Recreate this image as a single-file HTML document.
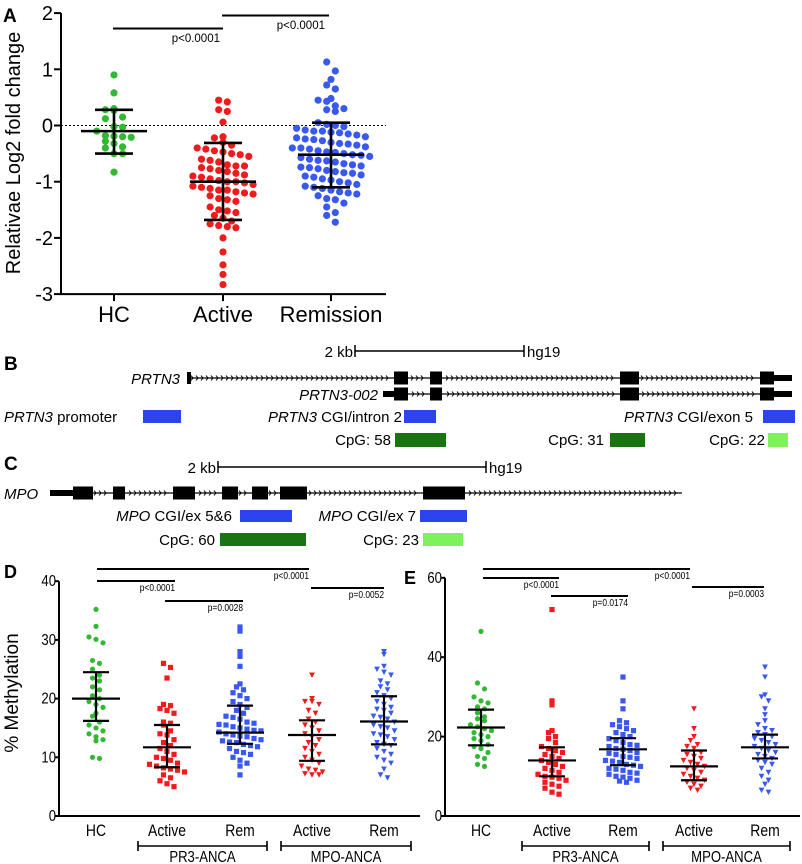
<!DOCTYPE html>
<html><head><meta charset="utf-8"><style>
body{margin:0;background:#fff}
svg{display:block;font-family:"Liberation Sans",sans-serif}
</style></head><body>
<svg id="fig" width="802" height="864" viewBox="0 0 802 864" xmlns="http://www.w3.org/2000/svg">
<text x="3" y="22" font-size="19" font-weight="bold">A</text>
<text transform="translate(20,153) rotate(-90)" text-anchor="middle" font-size="20">Relativae Log2 fold change</text>
<g id="panelB">
<text x="4" y="370" font-size="19" font-weight="bold">B</text>
<text x="353" y="357" text-anchor="end" font-size="15">2 kb</text>
<path d="M355 351H524M355 345V357M524 345V357" stroke="#000" stroke-width="1.5" fill="none"/>
<text x="527" y="357" font-size="15">hg19</text>
<text x="180" y="384" text-anchor="end" font-size="15" font-style="italic">PRTN3</text>
<text x="378" y="400" text-anchor="end" font-size="15" font-style="italic">PRTN3-002</text>
<text x="4" y="422" font-size="15"><tspan font-style="italic">PRTN3</tspan> promoter</text>
<rect x="143" y="410" width="38" height="13" fill="#2b44f0"/>
<text x="402" y="422" text-anchor="end" font-size="15"><tspan font-style="italic">PRTN3</tspan> CGI/intron 2</text>
<rect x="404" y="410" width="32" height="13" fill="#2b44f0"/>
<text x="753" y="422" text-anchor="end" font-size="15"><tspan font-style="italic">PRTN3</tspan> CGI/exon 5</text>
<rect x="763" y="410" width="32" height="13" fill="#2b44f0"/>
<text x="391" y="445" text-anchor="end" font-size="15">CpG: 58</text>
<rect x="395" y="433" width="51" height="14" fill="#1a7412"/>
<text x="604" y="445" text-anchor="end" font-size="15">CpG: 31</text>
<rect x="610" y="433" width="35" height="14" fill="#1a7412"/>
<text x="765" y="445" text-anchor="end" font-size="15">CpG: 22</text>
<rect x="768" y="433" width="20" height="14" fill="#7ef25a"/>
</g>
<g id="panelC">
<text x="4" y="470" font-size="19" font-weight="bold">C</text>
<text x="216" y="473" text-anchor="end" font-size="15">2 kb</text>
<path d="M218 467H486M218 461V473M486 461V473" stroke="#000" stroke-width="1.5" fill="none"/>
<text x="489" y="473" font-size="15">hg19</text>
<text x="4" y="499" font-size="15" font-style="italic">MPO</text>
<text x="232" y="521" text-anchor="end" font-size="15"><tspan font-style="italic">MPO</tspan> CGI/ex 5&amp;6</text>
<rect x="240" y="510" width="52" height="12" fill="#2b44f0"/>
<text x="416" y="521" text-anchor="end" font-size="15"><tspan font-style="italic">MPO</tspan> CGI/ex 7</text>
<rect x="420" y="510" width="47" height="12" fill="#2b44f0"/>
<text x="215" y="545" text-anchor="end" font-size="15">CpG: 60</text>
<rect x="220" y="533" width="86" height="13" fill="#1a7412"/>
<text x="419" y="545" text-anchor="end" font-size="15">CpG: 23</text>
<rect x="423" y="533" width="40" height="13" fill="#7ef25a"/>
</g>
<text x="4" y="578" font-size="18" font-weight="bold">D</text>
<text x="404" y="584" font-size="18" font-weight="bold">E</text>
<text transform="translate(18,693) rotate(-90)" text-anchor="middle" font-size="19">% Methylation</text>
<g id="layer"></g>
</svg>
<script>
// ---------- Panel A data ----------
const aCategories = ["HC","Active","Remission"];
const aHC = [0.9,0.58,0.3,0.28,0.27,0.15,0.12,-0.02,-0.03,-0.1,-0.18,-0.19,-0.2,-0.21,-0.28,-0.32,-0.38,-0.4,-0.5,-0.5,-0.83];
const aActive = [0.45,0.42,0.28,0.25,0.06,-0.2,-0.22,-0.3,-0.35,-0.4,-0.42,-0.45,-0.47,-0.5,-0.52,-0.55,-0.6,-0.62,-0.65,-0.7,-0.72,-0.72,-0.75,-0.77,-0.8,-0.82,-0.85,-0.88,-0.9,-0.92,-0.95,-0.98,-1.0,-1.0,-1.02,-1.05,-1.08,-1.1,-1.12,-1.15,-1.15,-1.18,-1.2,-1.22,-1.25,-1.3,-1.32,-1.35,-1.45,-1.5,-1.52,-1.55,-1.6,-1.65,-1.7,-1.75,-1.78,-1.8,-1.82,-2.0,-2.25,-2.48,-2.65,-2.83];
const aRemission = [1.13,0.97,0.82,0.72,0.65,0.48,0.45,0.43,0.35,0.3,0.28,0.25,0.05,0.02,0.0,-0.02,-0.05,-0.08,-0.1,-0.1,-0.12,-0.13,-0.15,-0.17,-0.2,-0.22,-0.24,-0.25,-0.27,-0.3,-0.32,-0.33,-0.35,-0.38,-0.4,-0.4,-0.42,-0.45,-0.47,-0.48,-0.5,-0.52,-0.53,-0.55,-0.57,-0.6,-0.62,-0.63,-0.65,-0.68,-0.7,-0.72,-0.74,-0.75,-0.77,-0.8,-0.82,-0.84,-0.85,-0.88,-0.9,-0.92,-0.95,-0.97,-1.0,-1.02,-1.05,-1.08,-1.1,-1.12,-1.15,-1.18,-1.2,-1.22,-1.25,-1.3,-1.32,-1.38,-1.45,-1.55,-1.6,-1.72];
const aMean = [-0.1,-1.0,-0.52];
const aSDhi = [0.28,-0.31,0.05];
const aSDlo = [-0.5,-1.68,-1.1];
const aTicks = [2,1,0,-1,-2,-3];
// ---------- Panel D data ----------
const dCategories = ["HC","Active","Rem","Active","Rem"];
const dHC = [35.2,32.3,30.5,30.1,29.5,26.5,26.0,25.0,24.0,23.5,23.0,22.0,21.5,20.5,20.0,19.5,19.0,18.5,17.5,17.0,16.0,15.5,15.0,14.5,14.0,13.5,13.0,12.8,10.0,9.8];
const dPR3Active = [26.0,25.3,23.5,19.0,18.8,18.3,18.0,17.5,16.0,15.8,15.5,14.5,14.0,13.8,13.0,12.5,12.0,11.5,11.0,10.5,10.0,9.8,9.5,9.0,8.8,8.5,8.2,8.0,7.8,7.5,7.0,6.5,6.0,5.5,5.0];
const dPR3Rem = [32.2,31.5,28.0,27.2,25.5,22.5,22.0,21.5,21.0,20.5,20.0,19.5,19.0,18.5,18.0,17.5,17.0,16.8,16.5,16.0,15.8,15.6,15.5,15.2,15.0,14.8,14.6,14.5,14.3,14.0,13.8,13.6,13.5,13.2,13.0,12.8,12.6,12.5,12.2,12.0,11.8,11.5,11.0,10.8,10.5,10.0,9.5,9.0,8.5,7.0];
const dMPOActive = [24.0,20.0,19.5,19.5,19.0,18.0,17.5,16.5,16.0,15.5,15.0,14.5,14.0,13.5,13.0,12.5,12.0,11.5,11.0,10.5,10.0,9.5,9.0,8.5,8.0,7.8,7.5,7.2,7.0,7.0];
const dMPORem = [28.0,27.5,25.5,25.0,24.5,24.0,23.0,22.5,22.0,21.5,21.0,20.5,20.0,19.5,19.0,18.5,18.2,18.0,17.5,17.0,16.8,16.5,16.0,15.5,15.2,15.0,14.5,14.0,13.8,13.5,13.0,12.5,12.2,12.0,11.5,11.0,10.5,10.0,9.5,9.0,8.0,7.0,6.5];
const dMean = [20.0,11.7,14.2,13.8,16.1];
const dSDhi = [24.5,15.5,18.8,16.3,20.4];
const dSDlo = [16.2,8.3,12.3,9.4,12.2];
const dTicks = [0,10,20,30,40];
// ---------- Panel E data ----------
const eHC = [46.5,33.5,32.0,30.0,29.0,28.5,27.5,27.0,26.0,25.0,24.5,24.0,23.0,22.5,22.0,21.5,21.0,20.5,20.0,19.5,19.0,18.0,17.5,17.0,16.0,15.0,14.5,13.0,12.5];
const ePR3Active = [52.0,29.0,28.0,21.5,21.0,20.0,19.5,18.5,17.5,17.0,16.5,16.0,15.5,15.0,14.5,14.0,13.5,13.0,12.5,12.0,11.5,11.0,10.5,10.0,9.8,9.5,9.0,8.5,8.0,7.5,7.0,6.0,5.5];
const ePR3Rem = [35.0,29.0,27.0,24.0,23.5,23.0,22.5,22.0,21.5,21.0,20.5,20.0,19.5,19.0,18.5,18.0,17.8,17.5,17.0,16.8,16.5,16.0,15.8,15.5,15.0,14.8,14.5,14.0,13.8,13.5,13.0,12.8,12.5,12.0,11.8,11.5,11.0,10.8,10.5,10.0,9.8,9.5,9.0,8.8,8.5];
const eMPOActive = [27.0,22.0,20.0,19.0,18.0,17.5,17.0,16.0,15.5,15.0,14.5,14.0,13.5,13.0,12.5,12.0,11.5,11.0,10.5,10.0,9.5,9.0,8.5,8.0,7.5,7.0,6.5];
const eMPORem = [37.5,35.0,30.5,30.0,29.0,27.0,25.5,24.0,23.0,22.0,21.5,21.0,20.5,20.0,19.5,19.0,18.5,18.0,17.5,17.0,16.5,16.0,15.5,15.0,14.5,14.0,13.5,13.0,12.0,11.0,10.0,9.0,8.0,6.5,6.0];
const eMean = [22.3,14.0,16.8,12.5,17.3];
const eSDhi = [26.8,17.3,19.6,16.5,20.5];
const eSDlo = [17.8,10.0,12.8,9.0,14.5];
const eTicks = [0,20,40,60];
// ---------- Gene structure (pixel spans of exons) ----------
const prtn3Exons = [[394,408],[430,442],[620,639],[760,774]];
const mpoExons = [[73,93],[113,125],[173,195],[222,238],[252,268],[280,307],[423,465]];

const NS="http://www.w3.org/2000/svg";
const layer=document.getElementById('layer');
function mk(tag,attrs,parent){const e=document.createElementNS(NS,tag);for(const k in attrs)e.setAttribute(k,attrs[k]);(parent||layer).appendChild(e);return e;}
function txt(x,y,s,size,anchor,parent){const t=mk('text',{x:x,y:y,'font-size':size,'text-anchor':anchor||'start'},parent);t.textContent=s;return t;}

const GREEN="#33b833",RED="#ee1c1c",BLUE="#3858ee";

function swarm(ys,bin,step){
  const rows={};ys.forEach((y,i)=>{const r=Math.round(y/bin);(rows[r]=rows[r]||[]).push(i);});
  const off=new Array(ys.length).fill(0);
  for(const r in rows){const idx=rows[r];const n=idx.length;
    idx.forEach((i,j)=>{off[i]=(j-(n-1)/2)*step;});}
  return off;
}
function marker(shape,x,y,s,color,g){
  let e;
  if(shape==='circle') e=mk('circle',{cx:x,cy:y,r:s,fill:color},g);
  else if(shape==='square') e=mk('rect',{x:x-s,y:y-s,width:2*s,height:2*s,fill:color},g);
  else e=mk('polygon',{points:`${x-s*1.1},${y-s} ${x+s*1.1},${y-s} ${x},${y+s*1.1}`,fill:color},g);
  return e;
}

// ===== Panel A =====
(function(){
  const x0=61,x1=386; const ya=v=>125.5-v*56.2;
  const xs=[114,223,331];
  const g=mk('g',{});
  
  
  const ax=mk('path',{d:`M${x0} ${ya(2)}V${ya(-3)}H${x1}`,stroke:'#000','stroke-width':2,fill:'none'},g);
  
  
  aTicks.forEach(t=>{mk('path',{d:`M${x0-7} ${ya(t)}H${x0}`,stroke:'#000','stroke-width':2},g);
    const l=txt(x0-8,ya(t)+7,(t<0?'-':'')+Math.abs(t),20,'end',g);
    
    });
  const zl=mk('line',{x1:x0,x2:x1,y1:ya(0),y2:ya(0),stroke:'#000','stroke-width':1,'stroke-dasharray':'2,2'},g);
  
  
  const groups=[aHC,aActive,aRemission],cols=[GREEN,RED,BLUE];
  groups.forEach((vals,gi)=>{
    mk('path',{d:`M${xs[gi]} ${ya(-3)}v7`,stroke:'#000','stroke-width':2},g);
    const cl=txt(xs[gi],ya(-3)+28,aCategories[gi],22,'middle',g);
    
    
    const ys=vals.map(ya);const off=swarm(ys,9.5,8.6);
    vals.forEach((v,i)=>{const d=marker('circle',xs[gi]+off[i],ys[i],3.6,cols[gi],g);
      
      });
    const eb=mk('path',{d:`M${xs[gi]-33} ${ya(aMean[gi])}h66M${xs[gi]} ${ya(aSDhi[gi])}V${ya(aSDlo[gi])}M${xs[gi]-19} ${ya(aSDhi[gi])}h38M${xs[gi]-19} ${ya(aSDlo[gi])}h38`,stroke:'#000','stroke-width':2.6,fill:'none'},g);
    
    
  });
  const s1=mk('path',{d:'M113 28.5H223M222 15.5H329',stroke:'#000','stroke-width':2},g);
  
  
  const p1=txt(220,42,'p<0.0001',11.5,'end',g);
  
  
  const p2=txt(325,29,'p<0.0001',11.5,'end',g);
  
  
})();

// ===== Gene tracks =====
(function(){
  function track(y,x0,x1,exons,thickStart,thickEnd,name,startBlock){
    const g=mk('g',{});
    
    
    mk('line',{x1:x0,x2:x1,y1:y,y2:y,stroke:'#000','stroke-width':1.3},g);
    let s='';for(let x=x0+6;x<x1-4;x+=5){
      if(exons.some(e=>x>e[0]-3&&x<e[1]+3))continue; s+=`M${x-2} ${y-2.5}L${x} ${y}L${x-2} ${y+2.5}`;}
    mk('path',{d:s,stroke:'#000','stroke-width':1,fill:'none'},g);
    if(thickStart)mk('rect',{x:thickStart[0],y:y-3,width:thickStart[1]-thickStart[0],height:6,fill:'#000'},g);
    if(thickEnd)mk('rect',{x:thickEnd[0],y:y-3,width:thickEnd[1]-thickEnd[0],height:6,fill:'#000'},g);
    if(startBlock)mk('rect',{x:startBlock[0],y:y-6,width:startBlock[1]-startBlock[0],height:12,fill:'#000'},g);
    exons.forEach(e=>{const r=mk('rect',{x:e[0],y:y-6.5,width:e[1]-e[0],height:13,fill:'#000'},g);
      
      });
  }
  track(378,187,792,prtn3Exons,null,[774,792],'prtn3-track',[187,191]);
  track(394,383,792,prtn3Exons,[383,394],[774,792],'prtn3-002-track',null);
  track(493,50,682,mpoExons,[50,73],null,'mpo-track',null);
})();

// ===== Panels D and E =====
function methPanel(cfg){
  const ya=v=>816-v*cfg.k;
  const g=mk('g',{});
  
  
  const top=ya(cfg.ticks[cfg.ticks.length-1]);
  const ax=mk('path',{d:`M${cfg.x0} ${top}V816H${cfg.x1}`,stroke:'#000','stroke-width':2,fill:'none'},g);
  
  
  cfg.ticks.forEach(t=>{mk('path',{d:`M${cfg.x0-4} ${ya(t)}H${cfg.x0}`,stroke:'#000','stroke-width':2},g);
    const l=txt(cfg.x0-3,ya(t)+5,String(t),16,'end',g);
    l.setAttribute('transform',`translate(${cfg.x0-3} 0) scale(0.82 1) translate(${-(cfg.x0-3)} 0)`);
    
    });
  const shapes=['circle','square','square','tri','tri'],cols=[GREEN,RED,BLUE,RED,BLUE];
  cfg.groups.forEach((vals,gi)=>{
    const x=cfg.xs[gi];
    const cl=txt(x,836,dCategories[gi],17,'middle',g);
    cl.setAttribute('transform',`translate(${x} 0) scale(0.82 1) translate(${-x} 0)`);
    
    
    const ys=vals.map(ya);const off=swarm(ys,cfg.bin,7);
    vals.forEach((v,i)=>{const m=marker(shapes[gi],x+off[i],ys[i],2.6,cols[gi],g);
      
      });
    const eb=mk('path',{d:`M${x-24} ${ya(cfg.mean[gi])}h48M${x} ${ya(cfg.hi[gi])}V${ya(cfg.lo[gi])}M${x-13} ${ya(cfg.hi[gi])}h26M${x-13} ${ya(cfg.lo[gi])}h26`,stroke:'#000','stroke-width':2.2,fill:'none'},g);
    
    
  });
  cfg.brackets.forEach(b=>{
    const br=mk('path',{d:`M${b[0]} 846H${b[1]}M${b[0]} 841V851M${b[1]} 841V851`,stroke:'#000','stroke-width':1.6,fill:'none'},g);
    
    
    const cx=(b[0]+b[1])/2;
    const t=txt(cx,862,b[2],16,'middle',g);
    t.setAttribute('transform',`translate(${cx} 0) scale(0.82 1) translate(${-cx} 0)`);
    
    
  });
  cfg.sig.forEach(s=>{
    const l=mk('line',{x1:s[0],x2:s[1],y1:s[2],y2:s[2],stroke:'#000','stroke-width':2},g);
    
    
    const t=txt(s[1],s[2]+10,s[3],10.5,'end',g);
    t.setAttribute('transform',`translate(${s[1]} 0) scale(0.8 1) translate(${-s[1]} 0)`);
    
    
  });
}
methPanel({name:'panel-d-chart',x0:59,x1:420,k:5.87,bin:8,ticks:dTicks,xs:[96,167,240,312,384],
  groups:[dHC,dPR3Active,dPR3Rem,dMPOActive,dMPORem],mean:dMean,hi:dSDhi,lo:dSDlo,
  brackets:[[138,267,'PR3-ANCA'],[281,411,'MPO-ANCA']],
  sig:[[97,309,569,'p<0.0001'],[97,175,581,'p<0.0001'],[165,243,601,'p=0.0028'],[311,384,588,'p=0.0052']]});
methPanel({name:'panel-e-chart',x0:445,x1:800,k:3.97,bin:7,ticks:eTicks,xs:[481,552,623,694,765],
  groups:[eHC,ePR3Active,ePR3Rem,eMPOActive,eMPORem],mean:eMean,hi:eSDhi,lo:eSDlo,
  brackets:[[522,649,'PR3-ANCA'],[663,790,'MPO-ANCA']],
  sig:[[483,690,569,'p<0.0001'],[483,559,578,'p<0.0001'],[551,628,596,'p=0.0174'],[692,764,587,'p=0.0003']]});
</script>
</body></html>
